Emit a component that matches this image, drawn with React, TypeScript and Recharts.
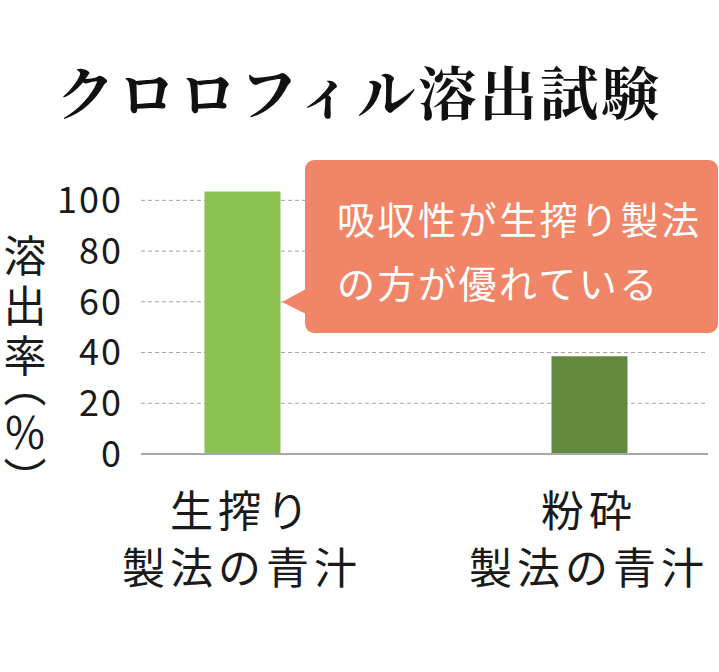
import { BarChart, Bar, XAxis, YAxis, CartesianGrid, Cell } from 'recharts';

// chart values
const labelTop = ['生搾り', '粉砕'];
const labelBottom = ['製法の青汁', '製法の青汁'];
const dissolution = [103.5, 38.5];
const barColors = ['#8BC152', '#628A3E'];
const yTicks = [0, 20, 40, 60, 80, 100];

const data = dissolution.map((v, i) => ({ idx: i, value: v }));

const CJK = '"Noto Sans CJK JP", "Noto Sans", sans-serif';

const XTick = (props: any) => {
  const { x, y, payload } = props;
  const i = payload.value as number;
  return (
    <g>
      <text x={x} y={y + 46} textAnchor="middle" dominantBaseline="central"
        fontFamily={CJK} fontSize={43} fill="#1a1a1a" letterSpacing={5}>
        {labelTop[i]}
      </text>
      <text x={x} y={y + 103} textAnchor="middle" dominantBaseline="central"
        fontFamily={CJK} fontSize={43} fill="#1a1a1a" letterSpacing={5}>
        {labelBottom[i]}
      </text>
    </g>
  );
};

const App = () => {
  return (
    <div style={{ position: 'absolute', left: 0, top: 0, width: 719, height: 672, background: '#fff', overflow: 'hidden' }}>
      <div style={{
        position: 'absolute', left: 0, top: 52, width: 719, textAlign: 'center',
        fontFamily: '"Noto Serif CJK JP", "Noto Sans CJK JP", serif', fontWeight: 700,
        fontSize: 58, lineHeight: '76px', letterSpacing: 3, color: '#111',
      }}>
        クロロフィル溶出試験
      </div>

      <BarChart width={719} height={672} data={data}
        margin={{ top: 175, right: 11, left: 41, bottom: 88 }}>
        <CartesianGrid vertical={false} stroke="#a3a3a3" strokeDasharray="4 3" syncWithTicks />
        <XAxis dataKey="idx" type="number" domain={[-0.291, 1.343]} ticks={[0, 1]}
          allowDataOverflow tickLine={false} axisLine={{ stroke: '#a8a8a8', strokeWidth: 2 }}
          height={130} tick={<XTick />} interval={0} />
        <YAxis domain={[0, 110]} ticks={yTicks} width={100} axisLine={false} tickLine={false}
          tickMargin={12}
          tick={{ fontFamily: CJK, fontSize: 36, fill: '#1a1a1a', letterSpacing: 2 }} />
        <Bar dataKey="value" barSize={76} isAnimationActive={false}>
          {data.map((d, i) => (
            <Cell key={d.idx} fill={barColors[i]} />
          ))}
        </Bar>
      </BarChart>

      <div style={{
        position: 'absolute', left: 0, top: 234, width: 50, height: 360,
        writingMode: 'vertical-rl', fontFamily: CJK, fontSize: 43, lineHeight: '50px',
        letterSpacing: 7, color: '#1a1a1a', fontFeatureSettings: '"vpal"',
      }}>
        溶出率（％）
      </div>

      <svg style={{ position: 'absolute', left: 0, top: 0 }} width={719} height={672}>
        <rect x={305} y={160} width={413} height={173} rx={9} fill="#F18567" />
        <polygon points="282,302 306,289 306,314" fill="#F18567" />
        <text x={337} y={217} dominantBaseline="central" fontFamily={CJK} fontSize={38}
          letterSpacing={2.5} fill="#fff">吸収性が生搾り製法</text>
        <text x={337} y={281} dominantBaseline="central" fontFamily={CJK} fontSize={38}
          letterSpacing={2.5} fill="#fff">の方が優れている</text>
      </svg>
    </div>
  );
};

export default App;
